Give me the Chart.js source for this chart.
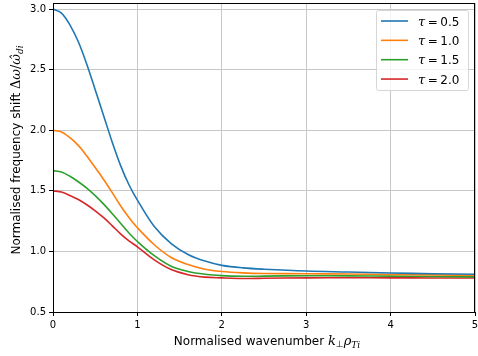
<!DOCTYPE html>
<html lang="en">
<head>
<meta charset="UTF-8">
<title>Normalised frequency shift</title>
<script src="https://cdn.jsdelivr.net/npm/chart.js@4.4.1/dist/chart.umd.min.js"></script>
<style>
  html, body { margin: 0; padding: 0; background: #fff; }
</style>
</head>
<body>
<canvas id="chart" width="478" height="356"></canvas>
<script>
    // normalised wavenumber k_perp rho_Ti
    const kValues = [0, 0.1, 0.2, 0.3, 0.4, 0.5, 0.6, 0.7, 0.8, 0.9, 1.0, 1.2, 1.4, 1.6, 1.8, 2.0, 2.25, 2.5, 3.0, 3.5, 4.0, 4.5, 5.0];

    // frequency shift for each tau
    const shiftTau05 = [3.0, 2.967, 2.87, 2.73, 2.545, 2.335, 2.12, 1.905, 1.71, 1.55, 1.423, 1.205, 1.065, 0.975, 0.92, 0.885, 0.864, 0.853, 0.838, 0.83, 0.822, 0.816, 0.811];
    const shiftTau10 = [2.0, 1.985, 1.94, 1.875, 1.788, 1.692, 1.593, 1.487, 1.377, 1.28, 1.195, 1.055, 0.95, 0.892, 0.853, 0.834, 0.823, 0.818, 0.816, 0.813, 0.81, 0.806, 0.803];
    const shiftTau15 = [1.667, 1.655, 1.62, 1.575, 1.522, 1.46, 1.39, 1.313, 1.232, 1.152, 1.082, 0.965, 0.878, 0.835, 0.812, 0.80, 0.795, 0.796, 0.799, 0.798, 0.796, 0.793, 0.79];
    const shiftTau20 = [1.5, 1.49, 1.462, 1.428, 1.385, 1.335, 1.278, 1.213, 1.145, 1.087, 1.038, 0.93, 0.85, 0.808, 0.788, 0.782, 0.777, 0.778, 0.782, 0.783, 0.782, 0.781, 0.78];

    const tauLabels = ['0.5', '1.0', '1.5', '2.0'];
    const seriesColors = ['#1f77b4', '#ff7f0e', '#2ca02c', '#d62728'];
    const xTicks = [0, 1, 2, 3, 4, 5];
    const yTicks = [0.5, 1.0, 1.5, 2.0, 2.5, 3.0];

    const SANS = '"DejaVu Sans", sans-serif';
    const SERIF = '"DejaVu Serif", serif';

    const series = [shiftTau05, shiftTau10, shiftTau15, shiftTau20];

    // draw a row of text pieces with their own fonts
    function drawRuns(ctx, runs, x, y) {
        let total = 0;
        runs.forEach(r => { ctx.font = r.font; total += ctx.measureText(r.t).width; });
        let cx = x - total / 2;
        runs.forEach(r => {
            ctx.font = r.font;
            ctx.fillText(r.t, cx, y + (r.dy || 0));
            cx += ctx.measureText(r.t).width;
        });
    }

    const decorations = {
        id: 'decorations',
        afterDraw(chart) {
            const ctx = chart.ctx;
            const a = chart.chartArea;
            ctx.save();

            // frame
            ctx.strokeStyle = '#000';
            ctx.lineWidth = 1;
            ctx.strokeRect(Math.round(a.left) + 0.5, Math.round(a.top) + 0.5,
                Math.round(a.right - a.left) - 1, Math.round(a.bottom - a.top));

            ctx.fillStyle = '#000';
            ctx.textBaseline = 'alphabetic';
            ctx.textAlign = 'left';

            // x axis title
            drawRuns(ctx, [
                {t: 'Normalised wavenumber ', font: '12px ' + SANS},
                {t: 'k', font: 'italic 13px ' + SERIF},
                {t: '\u22a5', font: '9px ' + SANS, dy: 2},
                {t: '\u03c1', font: 'italic 13px ' + SERIF},
                {t: 'Ti', font: 'italic 9px ' + SERIF, dy: 3}
            ], 267, 345);

            // y axis title
            ctx.save();
            ctx.translate(20, 150);
            ctx.rotate(-Math.PI / 2);
            drawRuns(ctx, [
                {t: 'Normalised frequency shift ', font: '12px ' + SANS},
                {t: '\u0394', font: '13px ' + SERIF},
                {t: '\u03c9', font: 'italic 13px ' + SERIF},
                {t: '/', font: '13px ' + SERIF},
                {t: '\u03c9\u0302', font: 'italic 13px ' + SERIF},
                {t: 'di', font: 'italic 9px ' + SERIF, dy: 3}
            ], 0, 0);
            ctx.restore();

            // legend
            const bx = 376.5, by = 10.5, bw = 92, bh = 80;
            ctx.beginPath();
            ctx.roundRect(bx, by, bw, bh, 2);
            ctx.fillStyle = 'rgba(255,255,255,0.8)';
            ctx.fill();
            ctx.strokeStyle = '#d6d6d6';
            ctx.stroke();

            chart.data.datasets.forEach((ds, i) => {
                const ry = 21 + i * 19.35;
                ctx.beginPath();
                ctx.moveTo(381, ry);
                ctx.lineTo(408, ry);
                ctx.strokeStyle = ds.borderColor;
                ctx.lineWidth = 1.6;
                ctx.stroke();
                ctx.fillStyle = '#000';
                let cx = 418;
                ctx.font = 'italic 13px ' + SERIF;
                ctx.fillText('\u03c4', cx, ry + 4.5);
                cx += ctx.measureText('\u03c4').width + 2.5;
                ctx.font = '12px ' + SANS;
                ctx.fillText('=', cx, ry + 4.5);
                cx += ctx.measureText('=').width + 2.5;
                ctx.fillText(tauLabels[i], cx, ry + 4.5);
            });

            ctx.restore();
        }
    };

    const ctx = document.getElementById('chart').getContext('2d');
    const chart = new Chart(ctx, {
        type: 'line',
        data: {
            datasets: series.map((vals, i) => ({
                label: '\u03c4 = ' + tauLabels[i],
                data: kValues.map((k, j) => ({x: k, y: vals[j]})),
                borderColor: seriesColors[i],
                backgroundColor: seriesColors[i],
                borderWidth: 1.6,
                pointRadius: 0,
                fill: false,
                tension: 0.35
            }))
        },
        options: {
            responsive: false,
            animation: false,
            layout: {padding: {top: 3, right: 3, left: 0, bottom: 0}},
            plugins: {
                legend: {display: false},
                tooltip: {enabled: false}
            },
            scales: {
                x: {
                    type: 'linear',
                    min: 0,
                    max: 5,
                    afterBuildTicks: s => { s.ticks = xTicks.map(v => ({value: v})); },
                    afterFit: s => { s.height = 44; s.paddingLeft = 0; s.paddingRight = 0; },
                    border: {display: false},
                    grid: {color: '#c8c8c8', lineWidth: 1, tickColor: '#000', tickLength: 4},
                    ticks: {
                        color: '#000',
                        padding: 3,
                        maxRotation: 0,
                        font: {family: SANS, size: 10},
                        callback: v => String(v)
                    }
                },
                y: {
                    min: 0.5,
                    max: 3.05,
                    afterBuildTicks: s => { s.ticks = yTicks.map(v => ({value: v})); },
                    afterFit: s => { s.width = 53; s.paddingTop = 0; s.paddingBottom = 0; },
                    border: {display: false},
                    grid: {color: '#c8c8c8', lineWidth: 1, tickColor: '#000', tickLength: 4},
                    ticks: {
                        color: '#000',
                        padding: 3,
                        font: {family: SANS, size: 10},
                        callback: v => v.toFixed(1)
                    }
                }
            }
        },
        plugins: [decorations]
    });
</script>
</body>
</html>
